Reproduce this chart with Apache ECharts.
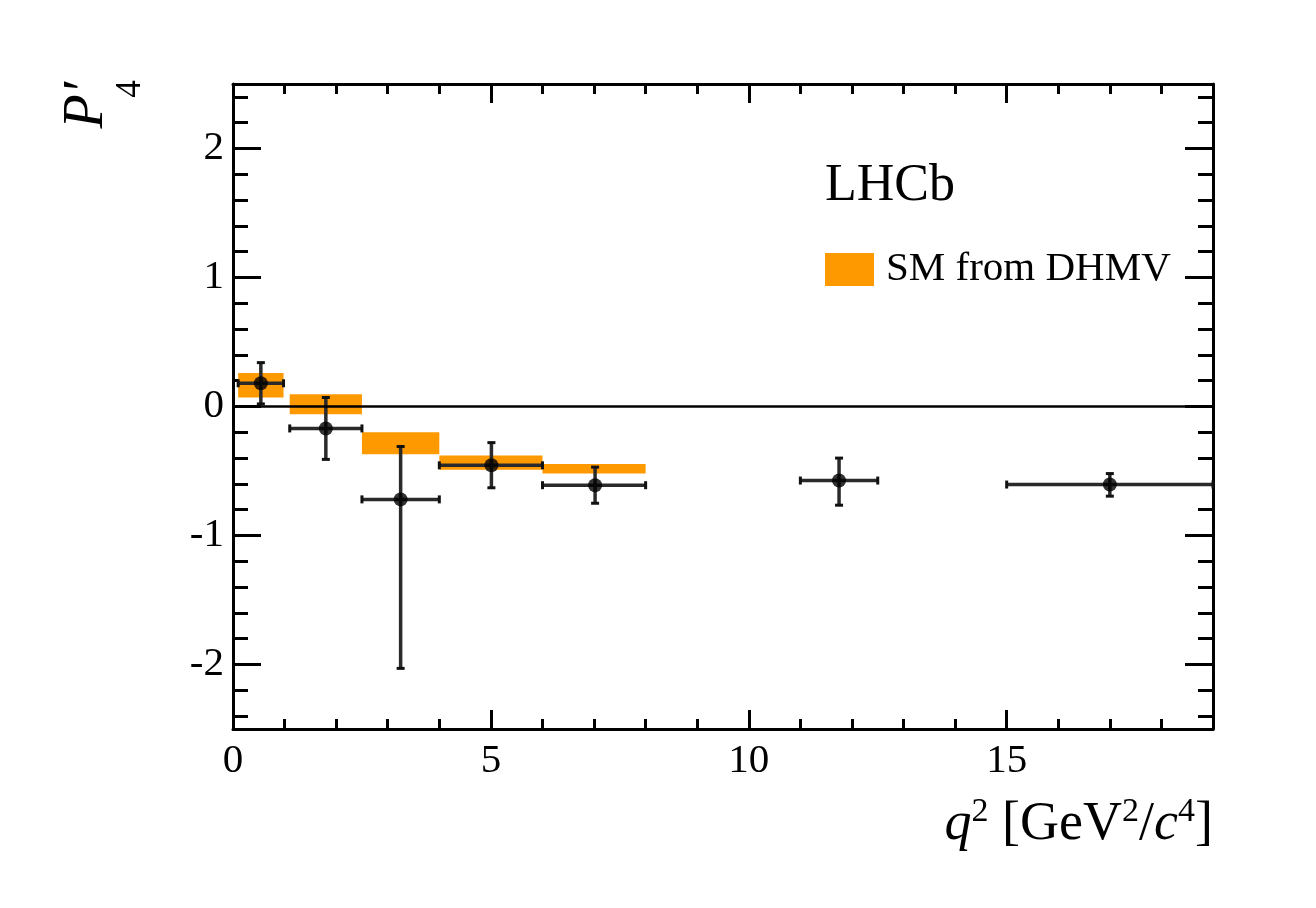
<!DOCTYPE html>
<html>
<head>
<meta charset="utf-8">
<script src="https://cdn.jsdelivr.net/npm/echarts@6/dist/echarts.min.js"></script>
<style>
  html, body { margin: 0; padding: 0; background: #fff; }
  #chart { width: 1316px; height: 908px; }
</style>
</head>
<body>
<div id="chart"></div>
<script>
// q2 bins [GeV^2/c^4]
const q2Lo = [0.1, 1.1, 2.5, 4.0, 6.0, 11.0, 15.0];
const q2Hi = [0.98, 2.5, 4.0, 6.0, 8.0, 12.5, 19.0];
const q2Center = [0.54, 1.80, 3.25, 5.01, 7.02, 11.75, 17.0];

// measured P'4 with error bar limits
const p4Value = [0.18, -0.17, -0.72, -0.456, -0.61, -0.574, -0.605];
const p4Low = [0.02, -0.41, -2.03, -0.63, -0.75, -0.765, -0.695];
const p4High = [0.34, 0.07, -0.31, -0.28, -0.47, -0.40, -0.52];

// SM prediction (DHMV), first five bins
const smLo = [0.07, -0.06, -0.37, -0.49, -0.52];
const smHi = [0.26, 0.095, -0.20, -0.38, -0.445];

// ticks
const xMajor = [0, 5, 10, 15];
const yMajor = [-2, -1, 0, 1, 2];
const xMinor = [];
for (let i = 1; i < 19; i++) if (i % 5) xMinor.push(i);
const yMinor = [];
for (let k = -12; k <= 12; k++) yMinor.push(Math.round(k * 2) / 10);

const FONT = '"Liberation Serif", "Times New Roman", serif';
const ORANGE = '#ff9900';

const bandData = smLo.map((lo, i) => [q2Lo[i], q2Hi[i], lo, smHi[i]]);
const errData = q2Center.map((x, i) => [x, p4Value[i], q2Lo[i], q2Hi[i], p4Low[i], p4High[i]]);
const pointData = q2Center.map((x, i) => [x, p4Value[i]]);

function xAx(pos, ticks, len, labels) {
  return {
    type: 'value', position: pos, min: 0, max: 19,
    axisLine: { show: labels !== null, onZero: false, lineStyle: { color: '#000', width: 3 } },
    axisTick: { inside: true, length: len, customValues: ticks, lineStyle: { color: '#000', width: 3 } },
    axisLabel: labels ? { customValues: ticks, margin: 12, color: '#000', fontSize: 41, fontFamily: FONT } : { show: false },
    splitLine: { show: false }
  };
}
function yAx(pos, ticks, len, labels) {
  return {
    type: 'value', position: pos, min: -2.5, max: 2.5,
    axisLine: { show: labels !== null, onZero: false, lineStyle: { color: '#000', width: 3 } },
    axisTick: { inside: true, length: len, customValues: ticks, lineStyle: { color: '#000', width: 3 } },
    axisLabel: labels ? { customValues: ticks, margin: 9, color: '#000', fontSize: 41, fontFamily: FONT } : { show: false },
    splitLine: { show: false }
  };
}

const chart = echarts.init(document.getElementById('chart'));
chart.setOption({
  backgroundColor: '#fff',
  animation: false,
  grid: { left: 233, right: 103, top: 84, bottom: 179 },
  xAxis: [
    xAx('bottom', xMajor, 19, true),
    xAx('bottom', xMinor, 10, null),
    xAx('top', xMajor, 19, false),
    xAx('top', xMinor, 10, null)
  ],
  yAxis: [
    yAx('left', yMajor, 28, true),
    yAx('left', yMinor, 15, null),
    yAx('right', yMajor, 28, false),
    yAx('right', yMinor, 15, null)
  ],
  legend: {
    left: 825, top: 249, padding: 0,
    selectedMode: false,
    itemWidth: 49, itemHeight: 33,
    data: [{ name: 'SM from DHMV', icon: 'rect' }],
    textStyle: { fontFamily: FONT, fontSize: 41, color: '#000', padding: [0, 0, 0, 7] }
  },
  graphic: [
    { type: 'text', left: 825, top: 160, style: { text: 'LHCb', font: '52px ' + FONT, fill: '#000' } },
    { type: 'text', x: 87, y: 82, rotation: Math.PI / 2,
      style: { text: 'P′', font: 'italic 56px ' + FONT, fill: '#000', align: 'right', verticalAlign: 'middle' } },
    { type: 'text', x: 131, y: 89, rotation: Math.PI / 2,
      style: { text: '4', font: '35px ' + FONT, fill: '#000', align: 'center', verticalAlign: 'middle' } },
    { type: 'text', x: 1213, y: 825,
      style: {
        text: '{i|q}{s|2}{n| [GeV}{s|2}{n|/}{i|c}{s|4}{n|]}', align: 'right', verticalAlign: 'middle', fill: '#000',
        rich: {
          i: { fontFamily: FONT, fontStyle: 'italic', fontSize: 54, lineHeight: 60, fill: '#000' },
          n: { fontFamily: FONT, fontSize: 54, lineHeight: 60, fill: '#000' },
          s: { fontFamily: FONT, fontSize: 34, lineHeight: 28, verticalAlign: 'top', fill: '#000' }
        }
      } }
  ],
  series: [
    {
      name: 'zero', type: 'line', data: [], z: 1, silent: true,
      markLine: {
        symbol: 'none', silent: true, label: { show: false },
        lineStyle: { color: '#000', width: 2.5, type: 'solid' },
        data: [{ yAxis: 0 }]
      }
    },
    {
      name: 'SM from DHMV', type: 'custom', z: 2,
      itemStyle: { color: ORANGE },
      data: bandData,
      renderItem: function (params, api) {
        const p0 = api.coord([api.value(0), api.value(3)]);
        const p1 = api.coord([api.value(1), api.value(2)]);
        return {
          type: 'rect',
          shape: { x: p0[0], y: p0[1], width: p1[0] - p0[0], height: p1[1] - p0[1] },
          style: { fill: ORANGE }
        };
      }
    },
    {
      name: 'errors', type: 'custom', z: 3,
      data: errData,
      renderItem: function (params, api) {
        const c = api.coord([api.value(0), api.value(1)]);
        const l = api.coord([api.value(2), api.value(1)]);
        const r = api.coord([api.value(3), api.value(1)]);
        const b = api.coord([api.value(0), api.value(4)]);
        const t = api.coord([api.value(0), api.value(5)]);
        const cap = 4;
        const bar = { stroke: '#2a2a2a', lineWidth: 3.5 };
        const capStyle = { stroke: '#111', lineWidth: 3 };
        return {
          type: 'group',
          children: [
            { type: 'line', shape: { x1: l[0], y1: c[1], x2: r[0], y2: c[1] }, style: bar },
            { type: 'line', shape: { x1: c[0], y1: b[1], x2: c[0], y2: t[1] }, style: bar },
            { type: 'line', shape: { x1: l[0], y1: c[1] - cap, x2: l[0], y2: c[1] + cap }, style: capStyle },
            { type: 'line', shape: { x1: r[0], y1: c[1] - cap, x2: r[0], y2: c[1] + cap }, style: capStyle },
            { type: 'line', shape: { x1: c[0] - cap, y1: b[1], x2: c[0] + cap, y2: b[1] }, style: capStyle },
            { type: 'line', shape: { x1: c[0] - cap, y1: t[1], x2: c[0] + cap, y2: t[1] }, style: capStyle }
          ]
        };
      }
    },
    {
      name: 'data', type: 'scatter', z: 4,
      symbol: 'circle', symbolSize: 14,
      itemStyle: { color: '#000' },
      data: pointData
    }
  ]
});
</script>
</body>
</html>
